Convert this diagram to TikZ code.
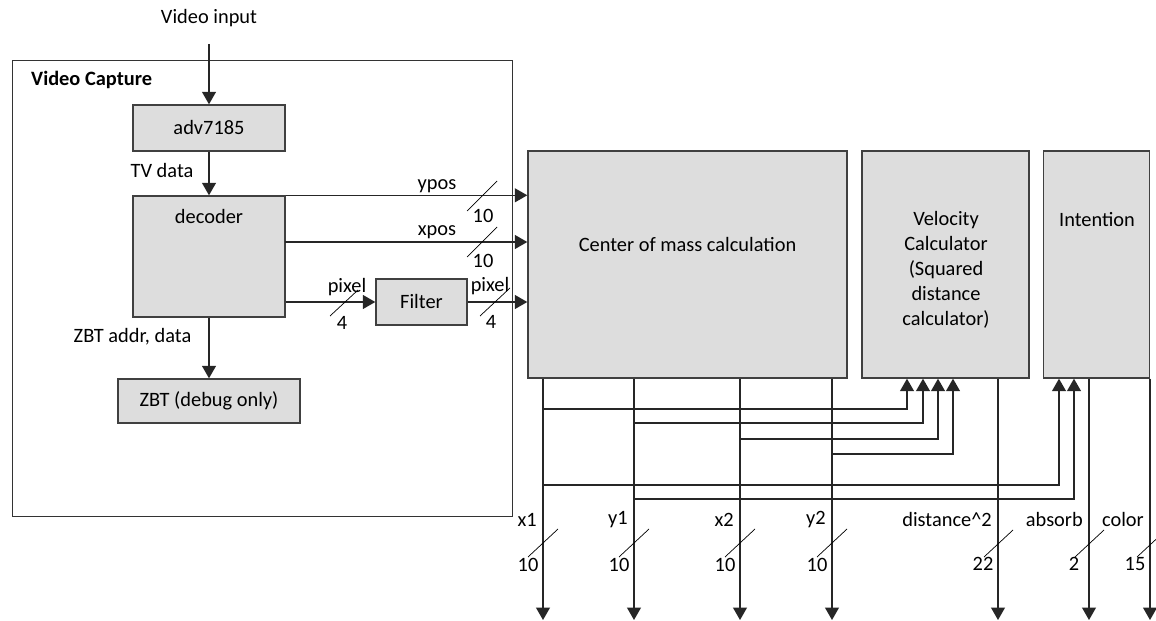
\documentclass[tikz,border=0pt]{standalone}
\usepackage{fontspec}
\setmainfont{Carlito}
\usepackage{xcolor}
\definecolor{blkfill}{RGB}{221,221,221}
\definecolor{blkline}{RGB}{64,64,64}
\usetikzlibrary{arrows.meta, positioning}

\begin{document}
\begin{tikzpicture}[font=\fontsize{11.6}{14.2}\selectfont,
    blk/.style={draw=blkline, fill=blkfill, line width=0.8pt, inner sep=0pt},
    sig/.style={-{Triangle[length=0.25cm, width=0.28cm]}, line width=0.7pt, draw=black!85},
    wire/.style={line width=0.4pt}]

\useasboundingbox (0,0) rectangle (23.12,-12.42);

% === Video capture frame ===
\node[draw=black!80, line width=0.5pt, minimum width=10cm, minimum height=9.12cm, inner sep=0pt]
      (cap) at (5.24,-5.76) {};
\node[font=\fontsize{11.6}{14}\selectfont\bfseries, anchor=west] (captitle) at (0.5,-1.6) {Video Capture};

\node (vidin) at (4.18,-0.36) {Video input};
\coordinate (vidsrc) at (4.18,-0.88);

% === blocks ===
\node[blk, minimum width=3.04cm, minimum height=0.92cm] (adv) at (4.18,-2.56) {adv7185};
\node[blk, minimum width=3.04cm, minimum height=2.42cm] (dec) at (4.18,-5.13) {};
\node (dectxt) at (4.18,-4.32) {decoder};
\node[blk, minimum width=3.64cm, minimum height=0.88cm] (zbt) at (4.18,-8.02) {ZBT (debug only)};
\node[blk, minimum width=1.82cm, minimum height=0.92cm] (filt) at (8.43,-6.04) {Filter};

\node[blk, minimum width=6.38cm, minimum height=4.54cm] (com) at (13.75,-5.29) {};
\node (comtxt) at (13.75,-4.9) {Center of mass calculation};
\node[blk, minimum width=3.34cm, minimum height=4.54cm] (vel) at (18.91,-5.29) {};
\node[align=center] (veltxt) at (18.92,-5.4) {Velocity\\Calculator\\(Squared\\distance\\calculator)};
\node[blk, minimum width=2.12cm, minimum height=4.54cm] (intn) at (21.93,-5.29) {};
\node (intxt) at (21.94,-4.4) {Intention};

% === capture path ===
\draw[sig] (vidsrc) -- (adv);
\draw[sig] (adv) -- (dec);
\node (tvdata) at (3.24,-3.42) {TV data};
\draw[sig] (dec) -- (zbt);
\node (zbtdata) at (2.65,-6.74) {ZBT addr, data};

% === decoder outputs ===
\coordinate (xpos) at (5.7,-4.84);
\draw[sig] (dec.north east) -- (dec.north east -| com.west);
\draw[sig] (xpos) -- (xpos -| com.west);
\draw[sig] (dec.east |- filt) -- (filt);
\draw[sig] (filt) -- (com.west |- filt);

\node (lypos) at (8.74,-3.72) {ypos};
\node (nypos) at (9.66,-4.32) {10};
\draw[wire] (9.34,-4.22) -- (9.94,-3.62);
\node (lxpos) at (8.74,-4.64) {xpos};
\node (nxpos) at (9.66,-5.22) {10};
\draw[wire] (9.34,-5.14) -- (9.94,-4.54);
\node (lpixa) at (6.94,-5.74) {pixel};
\node (npixa) at (6.84,-6.46) {4};
\draw[wire] (6.6,-6.32) -- (7.16,-5.8);
\node (lpixb) at (9.8,-5.72) {pixel};
\node (npixb) at (9.82,-6.44) {4};
\draw[wire] (9.6,-6.32) -- (10.2,-5.76);

% === outputs ===
\coordinate (x1b) at (10.86,-12.4);
\coordinate (y1b) at (12.68,-12.4);
\coordinate (x2b) at (14.8,-12.4);
\coordinate (y2b) at (16.64,-12.4);
\coordinate (dsqb) at (19.96,-12.4);
\coordinate (absb) at (21.78,-12.4);
\coordinate (colb) at (23.0,-12.4);

\draw[sig] (com.south -| x1b) -- (x1b);
\draw[sig] (com.south -| y1b) -- (y1b);
\draw[sig] (com.south -| x2b) -- (x2b);
\draw[sig] (com.south -| y2b) -- (y2b);
\draw[sig] (vel.south -| dsqb) -- (dsqb);
\draw[sig] (intn.south -| absb) -- (absb);
\draw[sig] (intn.south -| colb) -- (colb);

% feedback into velocity and intention
\coordinate (vi1) at (18.14,-8.18);
\coordinate (vi2) at (18.46,-8.46);
\coordinate (vi3) at (18.76,-8.78);
\coordinate (vi4) at (19.06,-9.08);
\coordinate (ii1) at (21.18,-9.7);
\coordinate (ii2) at (21.48,-9.98);
\draw[sig] (vi1 -| x1b) -- (vi1) -- (vi1 |- vel.south);
\draw[sig] (vi2 -| y1b) -- (vi2) -- (vi2 |- vel.south);
\draw[sig] (vi3 -| x2b) -- (vi3) -- (vi3 |- vel.south);
\draw[sig] (vi4 -| y2b) -- (vi4) -- (vi4 |- vel.south);
\draw[sig] (ii1 -| x1b) -- (ii1) -- (ii1 |- intn.south);
\draw[sig] (ii2 -| y1b) -- (ii2) -- (ii2 |- intn.south);

% bus labels
\node[anchor=east] (lx1) at (10.86,-10.4) {x1};
\node[anchor=east] (ly1) at (12.68,-10.4) {y1};
\node[anchor=east] (lx2) at (14.8,-10.4) {x2};
\node[anchor=east] (ly2) at (16.64,-10.4) {y2};
\node[anchor=east] (ldsq) at (19.96,-10.38) {distance\textasciicircum 2};
\node[anchor=east] (labs) at (21.78,-10.38) {absorb};
\node[anchor=east] (lcol) at (23.0,-10.38) {color};

\node (nx1) at (10.56,-11.3) {10};
\node (ny1) at (12.38,-11.3) {10};
\node (nx2) at (14.5,-11.3) {10};
\node (ny2) at (16.34,-11.3) {10};
\node (ndsq) at (19.66,-11.28) {22};
\node (nabs) at (21.48,-11.28) {2};
\node (ncol) at (22.7,-11.28) {15};

\draw[wire] (10.56,-11.14) -- (11.16,-10.58);
\draw[wire] (12.38,-11.14) -- (12.98,-10.58);
\draw[wire] (14.5,-11.14) -- (15.1,-10.58);
\draw[wire] (16.34,-11.14) -- (16.94,-10.58);
\draw[wire] (19.68,-11.14) -- (20.26,-10.6);
\draw[wire] (21.5,-11.14) -- (22.08,-10.6);
\draw[wire] (22.74,-11.14) -- (23.32,-10.6);

\end{tikzpicture}
\end{document}
